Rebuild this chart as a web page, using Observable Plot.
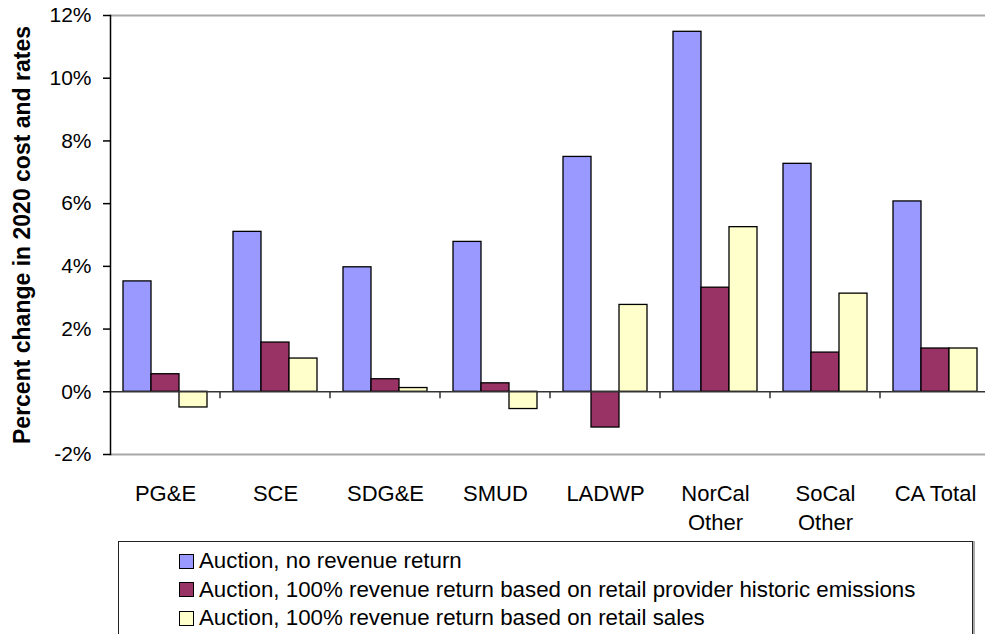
<!DOCTYPE html>
<html>
<head>
<meta charset="utf-8">
<script src="https://cdn.jsdelivr.net/npm/d3@7"></script>
<script src="https://cdn.jsdelivr.net/npm/@observablehq/plot@0.6"></script>
<style>
  body { margin: 0; background: #fff; overflow: hidden; font-family: "Liberation Sans", Arial, sans-serif; }
  #legend {
    position: absolute; left: 118px; top: 541px; width: 855px; height: 110px;
    border: 1.5px solid #222; box-sizing: border-box; padding-top: 5px;
    font-size: 22.3px; color: #000; box-shadow: 2px 0 0 #aaa;
  }
  .item { display: flex; align-items: center; height: 28.5px; padding-left: 60px; white-space: nowrap; }
  .sw { width: 13px; height: 13px; border: 1.5px solid #000; margin-right: 5px; flex: none; }
</style>
</head>
<body>
<div id="chart"></div>
<div id="legend"></div>
<script>
// categories along the bottom (line breaks as in the original)
const categories = ["PG&E", "SCE", "SDG&E", "SMUD", "LADWP", "NorCal\nOther", "SoCal\nOther", "CA Total"];

// percent change in 2020 cost and rates
const noReturn        = [3.52, 5.10, 3.97, 4.78, 7.49, 11.48, 7.27, 6.07];
const emissionsReturn = [0.56, 1.57, 0.40, 0.27, -1.14, 3.32, 1.25, 1.38];
const salesReturn     = [-0.50, 1.06, 0.12, -0.55, 2.77, 5.25, 3.13, 1.38];

const series = [
  "Auction, no revenue return",
  "Auction, 100% revenue return based on retail provider historic emissions",
  "Auction, 100% revenue return based on retail sales"
];
const colors = ["#9999ff", "#993366", "#ffffcc"];
const yTicks = [-2, 0, 2, 4, 6, 8, 10, 12];

// tidy table for Plot
const rows = categories.flatMap((c, i) =>
  [noReturn[i], emissionsReturn[i], salesReturn[i]].map((v, j) => ({category: c, series: series[j], value: v}))
);

const chart = Plot.plot({
  width: 985,
  height: 536,
  marginTop: 15,
  marginBottom: 82,
  marginLeft: 110,
  marginRight: -5,
  style: {fontFamily: "'Liberation Sans', Arial, sans-serif", fontSize: "21px", color: "#000", background: "#fff", overflow: "visible"},
  fx: {domain: categories, padding: 0},
  x: {domain: series, paddingInner: 0, paddingOuter: 0.46, axis: null},
  y: {domain: [yTicks[0], yTicks[yTicks.length - 1]]},
  color: {domain: series, range: colors},
  marks: [
    Plot.ruleY([yTicks[0], yTicks[yTicks.length - 1]], {stroke: "#a8a8a8", strokeWidth: 2}),
    Plot.barY(rows, {fx: "category", x: "series", y: "value", fill: "series", stroke: "#000", strokeWidth: 1.3}),
    Plot.ruleY([0], {stroke: "#333", strokeWidth: 1.5}),
    Plot.frame({anchor: "left", facetAnchor: "left", stroke: "#000", strokeWidth: 1.5}),
    Plot.axisY({ticks: yTicks, tickFormat: d => `${d}%`, tickSize: 7, tickPadding: 12, fontSize: 21, strokeWidth: 1.5, label: null}),
    Plot.axisY({ticks: [], label: "Percent change in 2020 cost and rates", labelAnchor: "center", labelArrow: "none", labelOffset: 97, fontSize: 23, fontWeight: "bold"}),
    Plot.axisFx({anchor: "bottom", tickSize: 0, tickPadding: 26, fontSize: 22, lineHeight: 1.32, label: null})
  ]
});

document.getElementById("chart").append(chart);

// small ticks under the zero line between categories, placed with the plot's own scales
const fxScale = Plot.scale({x: chart.scale("fx")});
const yScale = Plot.scale({y: chart.scale("y")});
d3.select(chart).append("g")
  .attr("stroke", "#333")
  .attr("stroke-width", 1.5)
  .selectAll("line")
  .data(categories.slice(1))
  .join("line")
    .attr("x1", d => fxScale.apply(d))
    .attr("x2", d => fxScale.apply(d))
    .attr("y1", yScale.apply(0))
    .attr("y2", yScale.apply(0) + 7);

// legend below the chart
const legend = d3.select("#legend");
series.forEach((s, i) => {
  const item = legend.append("div").attr("class", "item");
  item.append("span").attr("class", "sw").style("background", colors[i]);
  item.append("span").text(s);
});
</script>
</body>
</html>
